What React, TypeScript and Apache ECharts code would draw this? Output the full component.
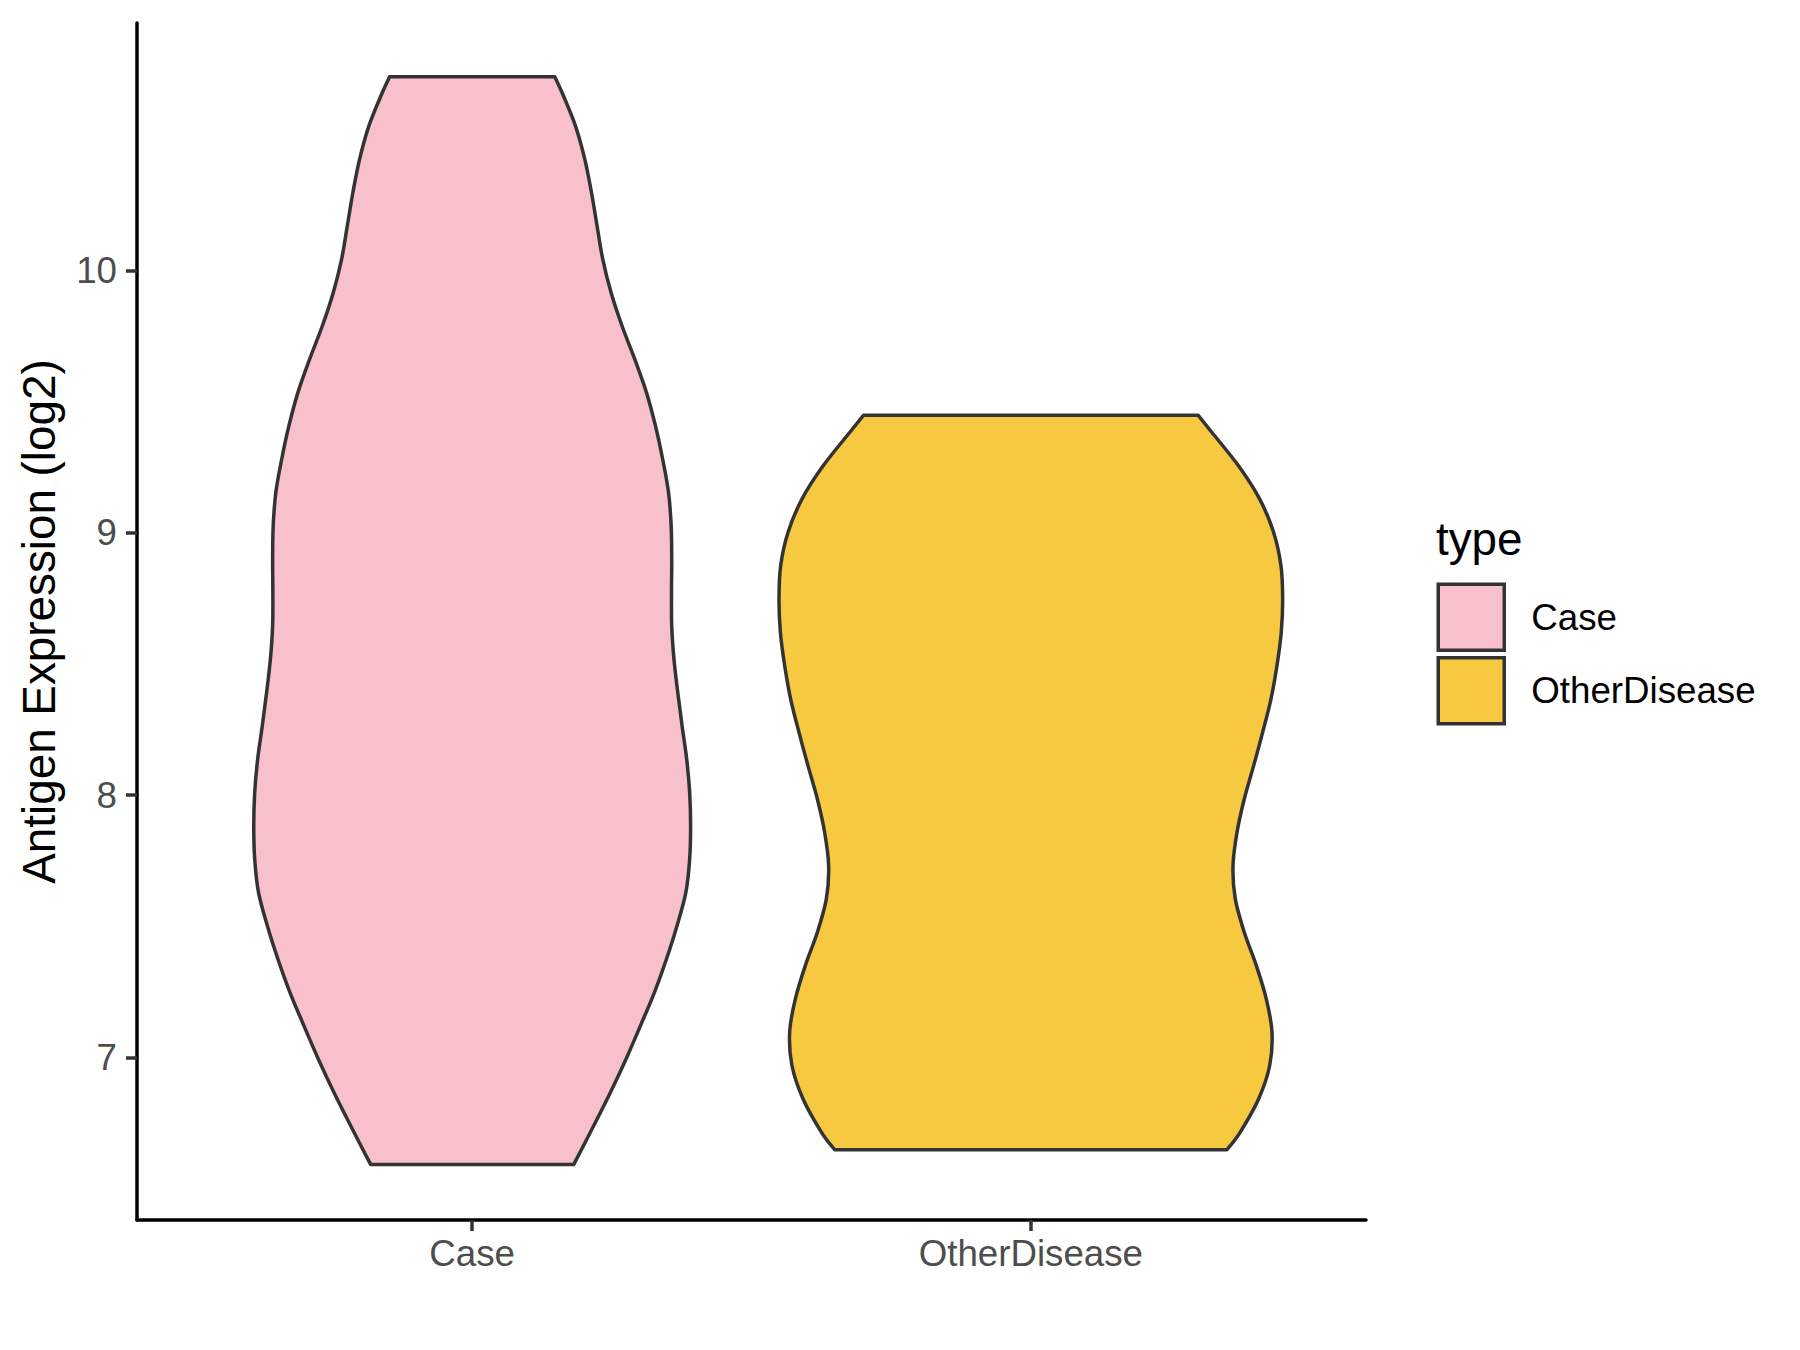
import React, { useEffect, useRef } from "react";
import * as echarts from "echarts";

// ---- Data ----
const categories = ["Case", "OtherDisease"];
const yTicks = [7, 8, 9, 10];

// Case violin outline: y values (log2 expression) and half-widths (category units)
const caseY = [10.738, 10.677, 10.55, 10.423, 10.296, 10.169, 10.042, 9.915, 9.788, 9.661, 9.534, 9.407, 9.28, 9.153, 9.026, 8.899, 8.772, 8.645, 8.518, 8.391, 8.264, 8.137, 8.01, 7.883, 7.756, 7.629, 7.502, 7.375, 7.248, 7.121, 6.994, 6.867, 6.74, 6.592];
const caseHalfWidth = [0.1479, 0.161, 0.185, 0.2016, 0.2136, 0.2236, 0.2338, 0.2487, 0.2683, 0.2911, 0.312, 0.3281, 0.341, 0.3515, 0.3562, 0.3572, 0.3568, 0.3572, 0.3612, 0.368, 0.3757, 0.384, 0.3893, 0.391, 0.3893, 0.3825, 0.3667, 0.3478, 0.3263, 0.3013, 0.2755, 0.2476, 0.2177, 0.1819];

// OtherDisease violin outline
const otherY = [9.448, 9.382, 9.254, 9.128, 9.001, 8.874, 8.747, 8.62, 8.493, 8.366, 8.239, 8.112, 7.985, 7.858, 7.73, 7.604, 7.477, 7.35, 7.223, 7.096, 6.969, 6.842, 6.715, 6.648];
const otherHalfWidth = [0.2993, 0.3243, 0.3721, 0.4097, 0.4347, 0.4478, 0.4508, 0.4483, 0.4406, 0.4299, 0.415, 0.3989, 0.3821, 0.3691, 0.3619, 0.366, 0.3821, 0.4036, 0.4215, 0.4317, 0.4276, 0.4079, 0.375, 0.3512];

const fills = ["#F7C0CB", "#F6C940"];
const FONT = "'Liberation Sans', Arial, Helvetica, sans-serif";

function smoothSide(pts: number[][]): string {
  let d = "";
  for (let i = 0; i < pts.length - 1; i++) {
    const p0 = pts[Math.max(0, i - 1)];
    const p1 = pts[i];
    const p2 = pts[i + 1];
    const p3 = pts[Math.min(pts.length - 1, i + 2)];
    const c1 = [p1[0] + (p2[0] - p0[0]) / 6, p1[1] + (p2[1] - p0[1]) / 6];
    const c2 = [p2[0] - (p3[0] - p1[0]) / 6, p2[1] - (p3[1] - p1[1]) / 6];
    d += ` C${c1[0]},${c1[1]} ${c2[0]},${c2[1]} ${p2[0]},${p2[1]}`;
  }
  return d;
}

function makeRender(ys: number[], ws: number[], fill: string) {
  return (params: any, api: any) => {
    const cx = api.value(0);
    const left = ys.map((y, i) => api.coord([cx - ws[i], y]));
    const right = ys.map((y, i) => api.coord([cx + ws[i], y])).reverse();
    const d =
      `M${left[0][0]},${left[0][1]}` +
      smoothSide(left) +
      ` L${right[0][0]},${right[0][1]}` +
      smoothSide(right) +
      " Z";
    return {
      type: "path",
      shape: { pathData: d },
      style: { fill, stroke: "#333333", lineWidth: 3.5, lineJoin: "round" },
    };
  };
}

export default function App() {
  const ref = useRef<HTMLDivElement>(null);
  useEffect(() => {
    document.body.style.margin = "0";
    if (!ref.current) return;
    const chart = echarts.init(ref.current, null, { renderer: "svg" });
    chart.setOption({
      animation: false,
      backgroundColor: "#ffffff",
      grid: { left: 137, right: 434, top: 23, bottom: 130 },
      xAxis: {
        type: "value",
        min: 0.4,
        max: 2.6,
        splitLine: { show: false },
        axisLine: { show: true, onZero: false, lineStyle: { color: "#000000", width: 3.5 } },
        axisTick: { show: true, customValues: [1, 2], length: 11, lineStyle: { color: "#333333", width: 3.5 } },
        axisLabel: {
          customValues: [1, 2],
          formatter: (v: number) => categories[Math.round(v) - 1] ?? "",
          fontSize: 36.7,
          color: "#4D4D4D",
          fontFamily: FONT,
          margin: 15,
        },
      },
      yAxis: {
        type: "value",
        min: 6.38,
        max: 10.943,
        splitLine: { show: false },
        axisLine: { show: true, onZero: false, lineStyle: { color: "#000000", width: 3.5 } },
        axisTick: { show: true, customValues: yTicks, length: 11, lineStyle: { color: "#333333", width: 3.5 } },
        axisLabel: {
          customValues: yTicks,
          fontSize: 36.7,
          color: "#4D4D4D",
          fontFamily: FONT,
          margin: 20,
        },
        name: "Antigen Expression (log2)",
        nameLocation: "middle",
        nameGap: 75,
        nameTextStyle: { fontSize: 45.8, color: "#000000", fontFamily: FONT },
      },
      legend: {
        orient: "vertical",
        left: 1436.5,
        top: 582.5,
        padding: 0,
        itemWidth: 66,
        itemHeight: 66,
        itemGap: 4,
        icon: "rect",
        selectedMode: false,
        data: categories.map((c, i) => ({
          name: c,
          itemStyle: { color: fills[i], borderColor: "#333333", borderWidth: 3.5 },
        })),
        textStyle: { fontSize: 36.7, color: "#000000", fontFamily: FONT, padding: [0, 0, 0, 22] },
      },
      graphic: [
        {
          type: "text",
          left: 1436,
          top: 516,
          style: { text: "type", fontSize: 45.8, fill: "#000000", fontFamily: FONT },
        },
      ],
      series: [
        {
          type: "custom",
          name: categories[0],
          coordinateSystem: "cartesian2d",
          itemStyle: { color: fills[0], borderColor: "#333333", borderWidth: 3.5 },
          data: [[1, 8]],
          encode: { x: 0, y: 1 },
          renderItem: makeRender(caseY, caseHalfWidth, fills[0]),
        },
        {
          type: "custom",
          name: categories[1],
          coordinateSystem: "cartesian2d",
          itemStyle: { color: fills[1], borderColor: "#333333", borderWidth: 3.5 },
          data: [[2, 8]],
          encode: { x: 0, y: 1 },
          renderItem: makeRender(otherY, otherHalfWidth, fills[1]),
        },
      ],
    });
    return () => chart.dispose();
  }, []);
  return <div ref={ref} style={{ width: 1800, height: 1350 }} />;
}
